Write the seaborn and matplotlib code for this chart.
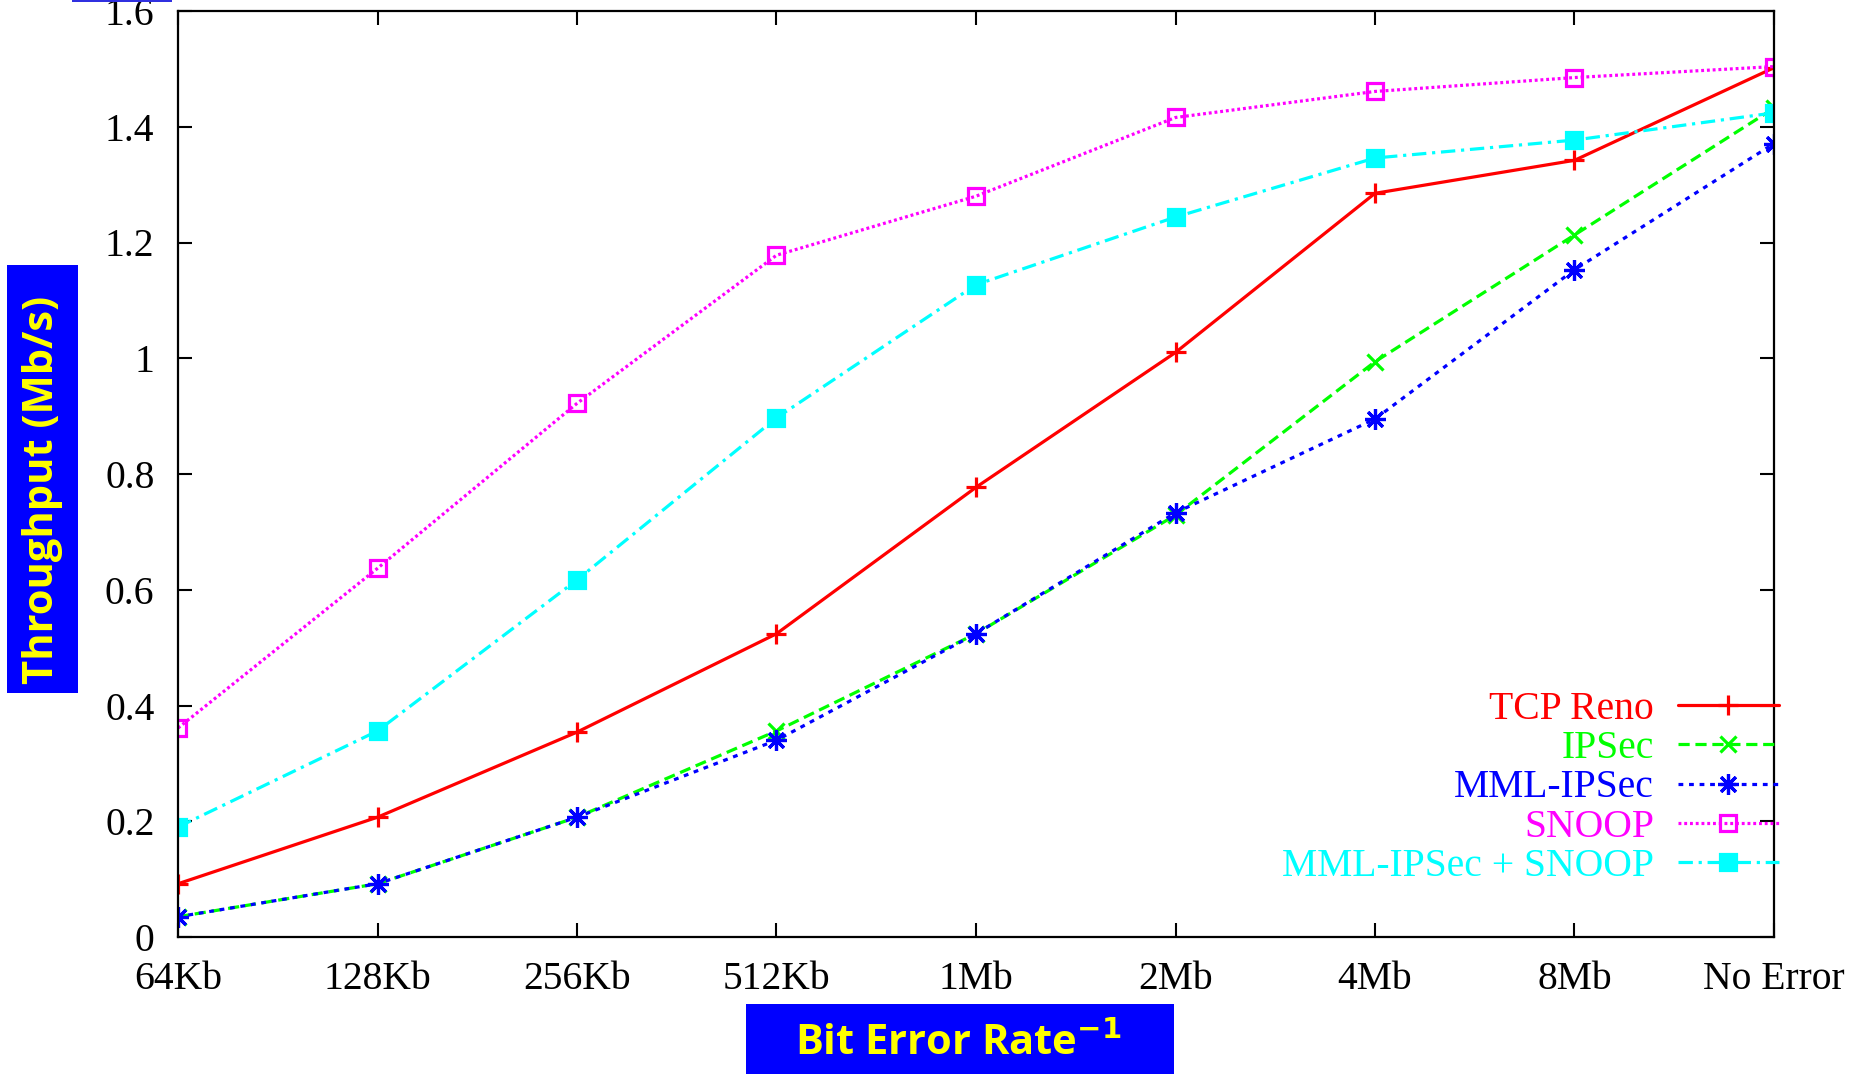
import matplotlib
matplotlib.use("Agg")
import matplotlib.pyplot as plt
import seaborn as sns
import pandas as pd
from matplotlib.patches import Rectangle
from matplotlib.ticker import FormatStrFormatter

categories = ["64Kb", "128Kb", "256Kb", "512Kb", "1Mb", "2Mb", "4Mb", "8Mb", "No Error"]
tcp_reno = [0.092, 0.207, 0.354, 0.524, 0.777, 1.010, 1.285, 1.342, 1.502]
ipsec = [0.035, 0.092, 0.207, 0.356, 0.524, 0.729, 0.994, 1.213, 1.432]
mml_ipsec = [0.035, 0.092, 0.207, 0.340, 0.524, 0.733, 0.895, 1.153, 1.371]
snoop = [0.361, 0.637, 0.922, 1.178, 1.280, 1.416, 1.461, 1.485, 1.504]
mml_snoop = [0.190, 0.356, 0.617, 0.897, 1.127, 1.244, 1.346, 1.377, 1.424]
y_ticks = [0, 0.2, 0.4, 0.6, 0.8, 1.0, 1.2, 1.4, 1.6]

series = [
    ("TCP Reno", tcp_reno, "#ff0000", "-", "+", 15, "#ff0000"),
    ("IPSec", ipsec, "#00ff00", (0, (3.5, 1.8)), "x", 12, "#00ff00"),
    ("MML-IPSec", mml_ipsec, "#0000ff", (0, (1.5, 1.8)), (8, 2, 0), 15, "#0000ff"),
    ("SNOOP", snoop, "#ff00ff", (0, (0.9, 0.9)), "s", 11.5, "none"),
    ("MML-IPSec + SNOOP", mml_snoop, "#00ffff", (0, (4.5, 1.8, 1, 1.8)), "s", 11.5, "#00ffff"),
]

sns.set_theme(style="ticks")
plt.rcParams["font.family"] = ["Liberation Serif", "DejaVu Serif"]

fig = plt.figure(figsize=(18.58, 10.74), dpi=100)
ax = fig.add_axes([178 / 1858, 137 / 1074, 1596 / 1858, 926 / 1074])

for name, vals, color, ls, mk, ms, mfc in series:
    df = pd.DataFrame({"x": categories, "y": vals})
    sns.lineplot(data=df, x="x", y="y", ax=ax, color=color, linestyle=ls,
                 linewidth=2.3, marker=mk, markersize=ms, markeredgewidth=2.3,
                 markerfacecolor=mfc, markeredgecolor=color, label=name, sort=False)

ax.set_xlim(0, len(categories) - 1)
ax.set_ylim(0, 1.6)
ax.set_yticks(y_ticks)
ax.yaxis.set_major_formatter(FormatStrFormatter("%g"))
ax.set_xticks(range(len(categories)))
ax.set_xticklabels(categories)
ax.set_xlabel("")
ax.set_ylabel("")

for sp in ax.spines.values():
    sp.set_visible(True)
    sp.set_linewidth(1.6)
    sp.set_color("black")
ax.tick_params(axis="both", direction="in", length=10, width=1.5, labelsize=28.5,
               top=True, right=True, colors="black")
ax.tick_params(axis="y", pad=17)
ax.tick_params(axis="x", pad=17)

leg = ax.legend(loc="lower right", bbox_to_anchor=(1.003, 0.056), frameon=False,
                markerfirst=False, fontsize=28.5, handlelength=2.55, handletextpad=0.6,
                labelspacing=0.06, borderpad=0, borderaxespad=0)
for txt, s in zip(leg.get_texts(), series):
    txt.set_color(s[2])

# axis label boxes
fig.patches.append(Rectangle((7 / 1858, 381 / 1074), 71 / 1858, 428 / 1074,
                             transform=fig.transFigure, facecolor="#0000ff",
                             edgecolor="none", zorder=0))
fig.text(42.5 / 1858, 0.5438, "Throughput (Mb/s)", rotation=90, ha="center",
         va="center", color="#ffff00", fontsize=30, fontweight="bold",
         family=["Open Sans", "DejaVu Sans"])

fig.patches.append(Rectangle((746 / 1858, 0), 428 / 1858, 70 / 1074,
                             transform=fig.transFigure, facecolor="#0000ff",
                             edgecolor="none", zorder=0))
fig.text(958 / 1858, 19 / 1074, r"Bit Error Rate$^{\mathbf{-1}}$", ha="center",
         va="baseline", color="#ffff00", fontsize=30, fontweight="bold",
         family=["Open Sans", "DejaVu Sans"], math_fontfamily="dejavusans")

# small blue remnant at top-left
fig.patches.append(Rectangle((72 / 1858, 1 - 2 / 1074), 100 / 1858, 2 / 1074,
                             transform=fig.transFigure, facecolor="#3030e0",
                             edgecolor="none", zorder=0))

fig.savefig("out.png", dpi=100)
